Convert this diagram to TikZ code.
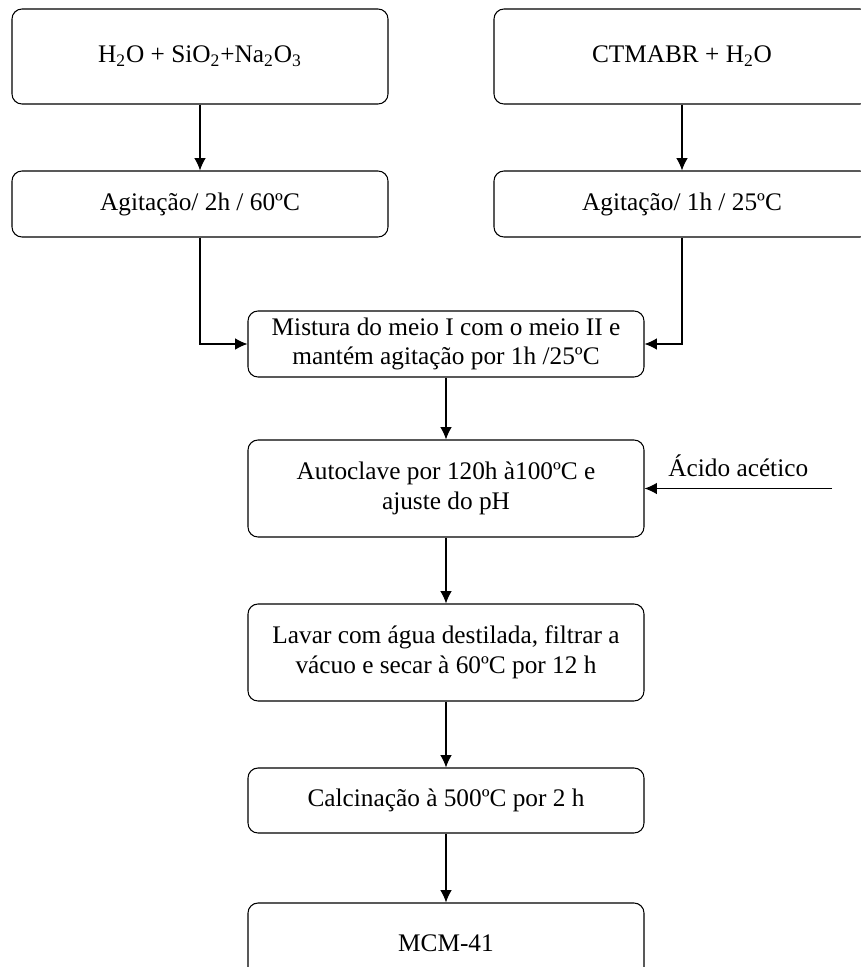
\documentclass[tikz,border=0pt]{standalone}
\usepackage{fontspec}
\setmainfont{Liberation Serif}
\usepackage{tikz}
\usetikzlibrary{positioning,arrows.meta}
\tikzset{%
   etapa/.style={
    draw,
    rounded corners=0.2cm,
    align=center,
    inner sep=0pt,
  },
}

\begin{document}
\begin{tikzpicture}[x=1cm, y=1cm, >={Latex[length=7pt,width=6.5pt]}, line width=0.6pt,
  font=\fontsize{14.4}{17}\selectfont]

\useasboundingbox (0,0) rectangle (17.2,-19.34);

% meio I e meio II
\node [etapa, minimum width=7.52cm, minimum height=1.9cm] (meio-1) at (4.0,-1.13)
  {H\textsubscript{2}O + SiO\textsubscript{2}+Na\textsubscript{2}O\textsubscript{3}};
\node [etapa, minimum width=7.52cm, minimum height=1.9cm] (meio-2) at (13.64,-1.13)
  {CTMABR + H\textsubscript{2}O};

\node [etapa, minimum width=7.52cm, minimum height=1.32cm] (agit-1) at (4.0,-4.08)
  {Agitação/ 2h / 60ºC};
\node [etapa, minimum width=7.52cm, minimum height=1.32cm] (agit-2) at (13.64,-4.08)
  {Agitação/ 1h / 25ºC};

% etapas centrais
\node [etapa, minimum width=7.92cm, minimum height=1.32cm] (mistura) at (8.92,-6.88)
  {Mistura do meio I com o meio II e\\ mantém agitação por 1h /25ºC};
\node [etapa, minimum width=7.92cm, minimum height=1.94cm] (autoclave) at (8.92,-9.77)
  {Autoclave por 120h à100ºC e\\ ajuste do pH};
\node [etapa, minimum width=7.92cm, minimum height=1.94cm] (lavar) at (8.92,-13.05)
  {Lavar com água destilada, filtrar a\\ vácuo e secar à 60ºC por 12 h};
\node [etapa, minimum width=7.92cm, minimum height=1.3cm] (calcin) at (8.92,-16.01)
  {Calcinação à 500ºC por 2 h};
\node [etapa, minimum width=7.92cm, minimum height=1.6cm] (mcm) at (8.92,-18.86)
  {MCM-41};

%%%%%%%%%%%%%%%%%%%%%%%%%%%%%%%%%%%%%%%%%%%%%%%%%%%%%%%%%%%%%%%%%%%%%%%%%%%%%
% connections

\foreach \i in {1,2}
  \draw [->] (meio-\i) -- (agit-\i);

\foreach \i in {1,2}
  \draw [->] (agit-\i) |- (mistura);

\foreach \a/\b in {mistura/autoclave, autoclave/lavar, lavar/calcin, calcin/mcm}
  \draw [->] (\a) -- (\b);

\coordinate (acido) at (16.64,-9.77);
\draw [->] (acido) -- (autoclave)
    node [above=3pt, midway] {Ácido acético};

\end{tikzpicture}
\end{document}
